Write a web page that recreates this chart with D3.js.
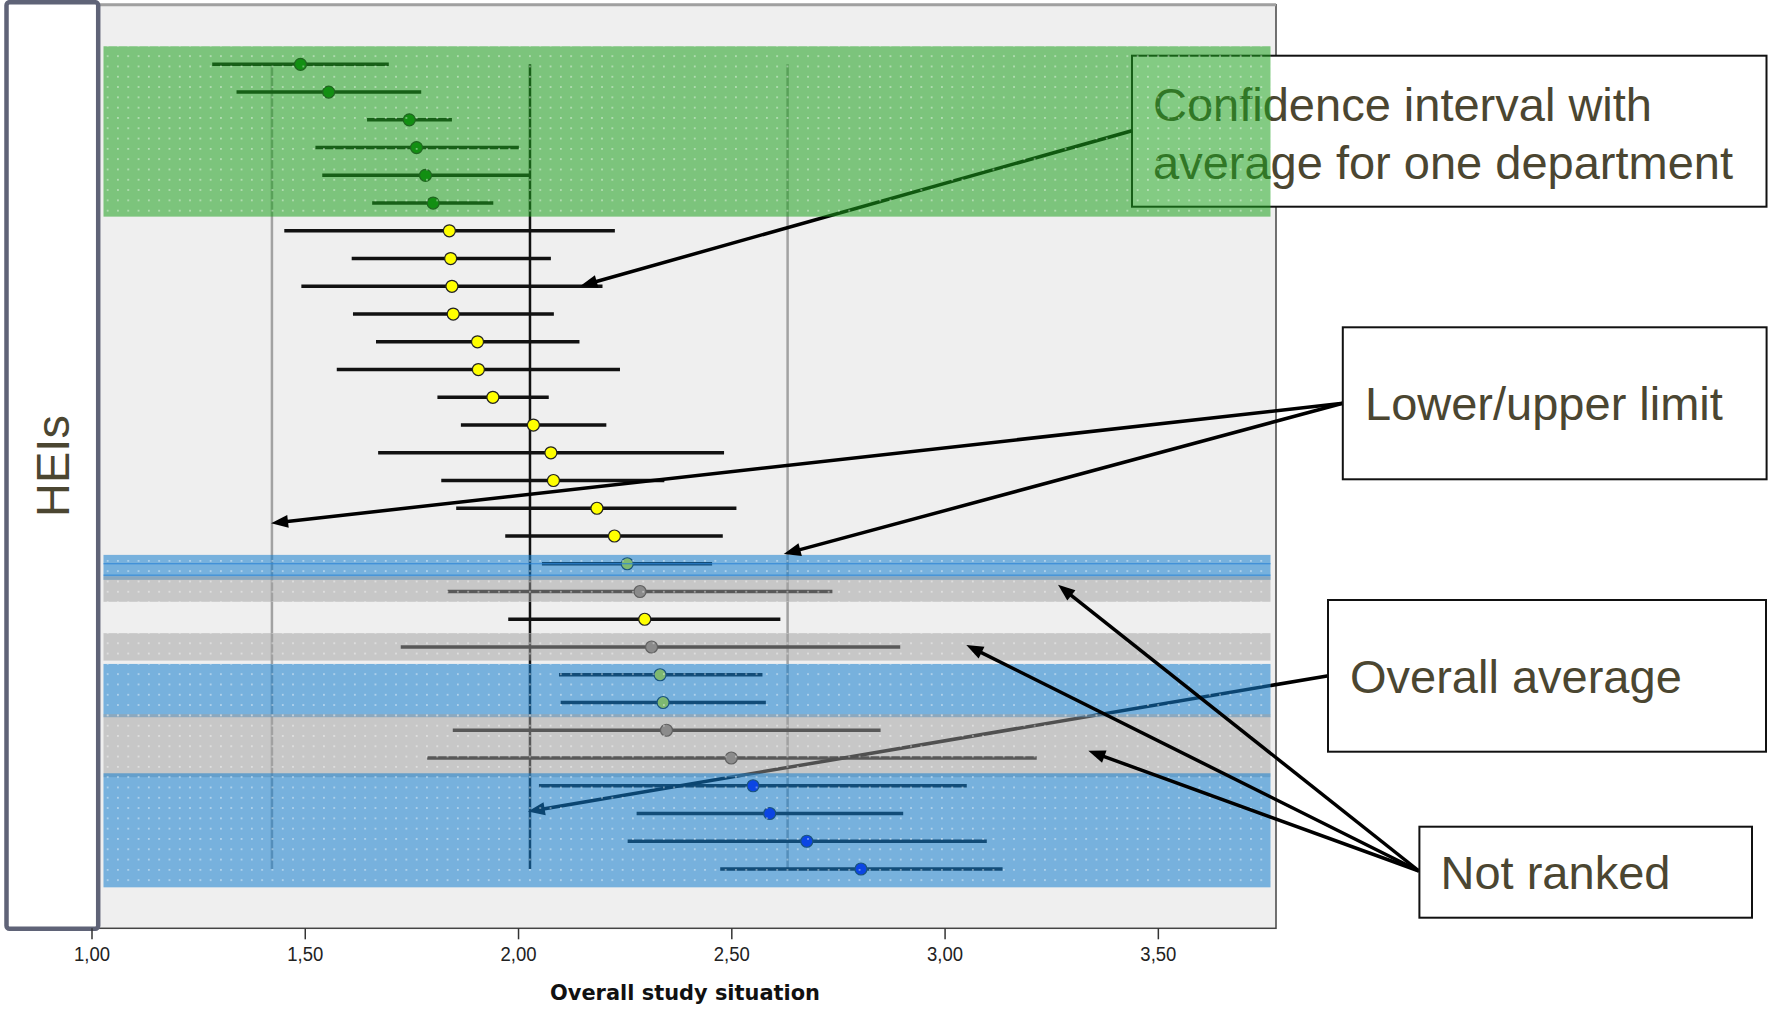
<!DOCTYPE html>
<html>
<head>
<meta charset="utf-8">
<script src="https://cdn.jsdelivr.net/npm/d3@7"></script>
<style>
    body { margin: 0; background: #fff; }
    svg { display: block; }
</style>
</head>
<body>
<div id="chart"></div>
<script>
// one row per department, top to bottom
var means  = [1.490, 1.556, 1.745, 1.762, 1.783, 1.801,
              1.839, 1.842, 1.845, 1.848, 1.905, 1.907, 1.941, 2.036, 2.077, 2.083, 2.185, 2.226,
              2.256, 2.286, 2.297, 2.313, 2.333, 2.340, 2.348, 2.500,
              2.551, 2.590, 2.677, 2.804];
var lowers = [1.283, 1.340, 1.646, 1.525, 1.541, 1.658,
              1.452, 1.610, 1.492, 1.613, 1.667, 1.575, 1.811, 1.866, 1.672, 1.820, 1.855, 1.970,
              2.056, 1.835, 1.977, 1.725, 2.096, 2.100, 1.847, 1.787,
              2.049, 2.278, 2.257, 2.474];
var uppers = [1.697, 1.773, 1.845, 2.002, 2.028, 1.942,
              2.227, 2.077, 2.198, 2.084, 2.144, 2.239, 2.072, 2.207, 2.483, 2.343, 2.512, 2.480,
              2.455, 2.737, 2.615, 2.896, 2.573, 2.581, 2.850, 3.216,
              3.052, 2.903, 3.099, 3.136];
var groups = ['top', 'top', 'top', 'top', 'top', 'top',
              'mid', 'mid', 'mid', 'mid', 'mid', 'mid', 'mid', 'mid', 'mid', 'mid', 'mid', 'mid',
              'mid', 'nr', 'mid', 'nr', 'mid', 'mid', 'nr', 'nr',
              'low', 'low', 'low', 'low'];

var limitValues = [1.423, 2.632];
var overallAverage = 2.028;
var tickValues = [1.0, 1.5, 2.0, 2.5, 3.0, 3.5];

// shaded bands, in row units
var bandRanges = [[0.35, 6.49], [18.68, 19.58], [19.45, 20.37], [21.50, 22.49],
                  [22.61, 24.53], [24.42, 26.69], [26.55, 30.66]];
var bandKinds  = ['green', 'blue', 'grey', 'grey', 'blue', 'grey', 'blue'];

var calloutTexts = [['Confidence interval with', 'average for one department'],
                    ['Lower/upper limit'], ['Overall average'], ['Not ranked']];
// arrow tips, [value, row]
var confTarget = [2.146, 8.99];
var limitTargets = [[1.421, 17.54], [2.623, 18.65]];
var averageTarget = [2.023, 27.93];
var notRankedTargets = [[3.266, 19.76], [3.051, 21.93], [3.337, 25.74]];

var W = 1769, H = 1009;
var plotLeft = 91.5, plotRight = 1276, plotTop = 4.7, plotBottom = 928.3;
var FONT = '"Liberation Sans", Arial, sans-serif';
var TEXT_COLOR = '#4b4631';

var dotFill = { top: '#067a06', mid: '#ffff00', nr: '#767676', low: '#0000ff' };
var bandStyle = {
    green: { fill: 'rgb(30,160,30)', opacity: 0.55 },
    blue:  { fill: 'rgb(20,125,205)', opacity: 0.55 },
    grey:  { fill: 'rgb(160,160,160)', opacity: 0.5 }
};

var x = d3.scaleLinear().domain([1, 3.777]).range([plotLeft, plotRight]);
var y = d3.scaleLinear().domain([1, 30]).range([64.3, 869]);

var svg = d3.select('#chart').append('svg').attr('width', W).attr('height', H);

var pat = svg.append('defs').append('pattern')
    .attr('id', 'dots').attr('patternUnits', 'userSpaceOnUse')
    .attr('width', 10.3).attr('height', 10.3);
pat.append('rect').attr('x', 4).attr('y', 4).attr('width', 1.3).attr('height', 1.3)
    .attr('fill', '#fff').attr('opacity', 0.8);

// plot area
svg.append('rect')
    .attr('x', plotLeft).attr('y', plotTop)
    .attr('width', plotRight - plotLeft).attr('height', plotBottom - plotTop)
    .attr('fill', '#efefef').attr('stroke', '#444').attr('stroke-width', 1.5);
svg.append('line')
    .attr('x1', plotLeft).attr('x2', plotRight).attr('y1', plotTop).attr('y2', plotTop)
    .attr('stroke', '#a0a0a0').attr('stroke-width', 3);

// reference lines
var refG = svg.append('g');
limitValues.forEach(function (v) {
    refG.append('line')
        .attr('x1', x(v)).attr('x2', x(v)).attr('y1', y(1)).attr('y2', y(30))
        .attr('stroke', '#a2a2a2').attr('stroke-width', 2.5);
});
refG.append('line')
    .attr('x1', x(overallAverage)).attr('x2', x(overallAverage)).attr('y1', y(1)).attr('y2', y(30))
    .attr('stroke', '#111').attr('stroke-width', 2.5);

// confidence intervals
var rows = means.map(function (m, i) {
    return { row: i + 1, mean: m, lo: lowers[i], hi: uppers[i], group: groups[i] };
});
var rowG = svg.append('g').selectAll('g').data(rows).enter().append('g');
rowG.append('line')
    .attr('x1', function (d) { return x(d.lo); })
    .attr('x2', function (d) { return x(d.hi); })
    .attr('y1', function (d) { return y(d.row); })
    .attr('y2', function (d) { return y(d.row); })
    .attr('stroke', '#111').attr('stroke-width', 3.5);
rowG.append('circle')
    .attr('cx', function (d) { return x(d.mean); })
    .attr('cy', function (d) { return y(d.row); })
    .attr('r', 6)
    .attr('fill', function (d) { return dotFill[d.group]; })
    .attr('stroke', '#222').attr('stroke-width', 1.2);

function drawArrow(g, x1, y1, x2, y2) {
    var dx = x2 - x1, dy = y2 - y1, len = Math.sqrt(dx * dx + dy * dy);
    var ux = dx / len, uy = dy / len;
    var headLen = 17, half = 6.5;
    var bx = x2 - ux * headLen, by = y2 - uy * headLen;
    g.append('line')
        .attr('x1', x1).attr('y1', y1).attr('x2', bx + ux * 3).attr('y2', by + uy * 3)
        .attr('stroke', '#000').attr('stroke-width', 3.5);
    g.append('path')
        .attr('d', 'M' + x2 + ',' + y2 +
                   'L' + (bx - uy * half) + ',' + (by + ux * half) +
                   'L' + (bx + uy * half) + ',' + (by - ux * half) + 'Z')
        .attr('fill', '#000');
}

function drawCallout(g, box, lines, textX, baselines) {
    g.append('rect')
        .attr('x', box[0]).attr('y', box[1])
        .attr('width', box[2] - box[0]).attr('height', box[3] - box[1])
        .attr('fill', '#fff').attr('stroke', '#111').attr('stroke-width', 2);
    lines.forEach(function (t, i) {
        g.append('text')
            .attr('x', textX).attr('y', baselines[i])
            .attr('font-family', FONT).attr('font-size', 47)
            .attr('fill', TEXT_COLOR)
            .text(t);
    });
}

// annotations that sit under the shaded bands
var underG = svg.append('g');
drawCallout(underG, [1132, 55.7, 1766.5, 206.7], calloutTexts[0], 1153, [120.6, 179]);
drawArrow(underG, 1132, 130.7, x(confTarget[0]), y(confTarget[1]));
drawArrow(underG, 1328.5, 675.7, x(averageTarget[0]), y(averageTarget[1]));

// shaded bands
var bandLeft = x(1) + 12, bandRight = plotRight - 5.5;
var bandG = svg.append('g');
bandRanges.forEach(function (r, i) {
    var s = bandStyle[bandKinds[i]];
    bandG.append('rect')
        .attr('x', bandLeft).attr('y', y(r[0]))
        .attr('width', bandRight - bandLeft).attr('height', y(r[1]) - y(r[0]))
        .attr('fill', s.fill).attr('fill-opacity', s.opacity);
    bandG.append('rect')
        .attr('x', bandLeft).attr('y', y(r[0]))
        .attr('width', bandRight - bandLeft).attr('height', y(r[1]) - y(r[0]))
        .attr('fill', 'url(#dots)');
});
// thin outline inside the single blue row
[19.0, 19.41].forEach(function (r) {
    bandG.append('line')
        .attr('x1', bandLeft).attr('x2', bandRight).attr('y1', y(r)).attr('y2', y(r))
        .attr('stroke', '#2f86d6').attr('stroke-width', 1);
});

// annotations on top
var overG = svg.append('g');
limitTargets.forEach(function (t) {
    drawArrow(overG, 1342.8, 403.3, x(t[0]), y(t[1]));
});
notRankedTargets.forEach(function (t) {
    drawArrow(overG, 1419, 871, x(t[0]), y(t[1]));
});
drawCallout(overG, [1342.8, 327.3, 1766.6, 479.3], calloutTexts[1], 1365, [420]);
drawCallout(overG, [1328, 600, 1766, 751.7], calloutTexts[2], 1350, [693.3]);
drawCallout(overG, [1419.4, 826.7, 1752, 917.7], calloutTexts[3], 1440.5, [889.3]);

// HEIs box
svg.append('rect')
    .attr('x', 6.5).attr('y', 2.2).attr('width', 91.7).attr('height', 926.5)
    .attr('rx', 3)
    .attr('fill', '#fff').attr('stroke', '#5f6377').attr('stroke-width', 4.5);
svg.append('text')
    .attr('transform', 'translate(69,466) rotate(-90)')
    .attr('text-anchor', 'middle')
    .attr('font-family', FONT).attr('font-size', 47)
    .attr('fill', TEXT_COLOR)
    .text('HEIs');

// x axis
var axis = d3.axisBottom(x)
    .tickValues(tickValues)
    .tickSize(11)
    .tickPadding(8)
    .tickFormat(function (d) { return d.toFixed(2).replace('.', ','); });
var axisG = svg.append('g').attr('transform', 'translate(0,' + plotBottom + ')').call(axis);
axisG.select('.domain').remove();
axisG.selectAll('.tick line').attr('stroke', '#333').attr('stroke-width', 1.5);
axisG.selectAll('.tick text')
    .attr('font-family', FONT).attr('font-size', 20).attr('fill', '#222')
    .attr('textLength', 36).attr('lengthAdjust', 'spacingAndGlyphs');

svg.append('text')
    .attr('x', 685).attr('y', 1000)
    .attr('text-anchor', 'middle')
    .attr('font-family', '"DejaVu Sans", sans-serif').attr('font-weight', 'bold')
    .attr('font-size', 21).attr('fill', '#111')
    .attr('textLength', 270).attr('lengthAdjust', 'spacingAndGlyphs')
    .text('Overall study situation');
</script>
</body>
</html>
